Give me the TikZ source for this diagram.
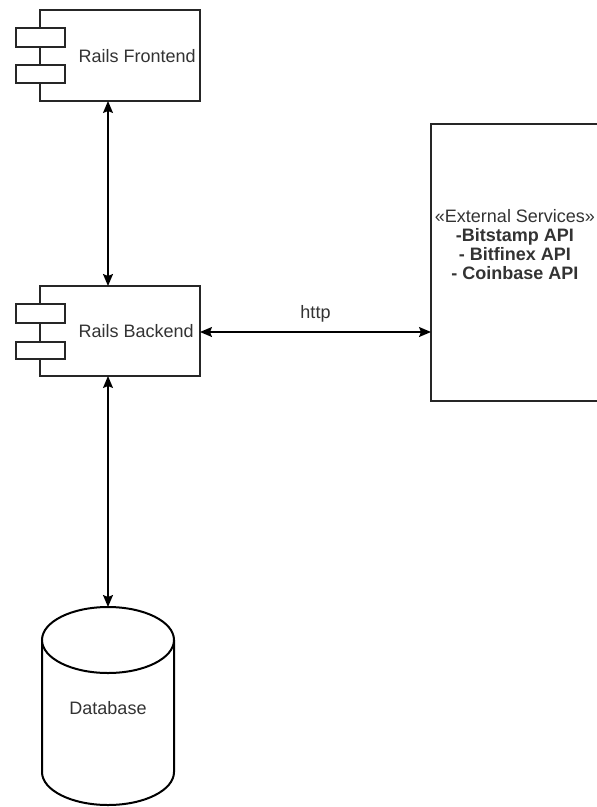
\documentclass[tikz,border=0pt]{standalone}
\usepackage{fontspec}
\setmainfont{Liberation Sans}
\usetikzlibrary{arrows.meta}
\begin{document}
\begin{tikzpicture}[x=1pt,y=-1pt,
  box/.style={draw=black!85,line width=1.3pt,fill=white},
  lbl/.style={font=\fontsize{18}{19}\selectfont,text=black!80},
  conn/.style={line width=1.4pt,{Stealth[length=12pt,width=10pt,inset=2pt]}-{Stealth[length=12pt,width=10pt,inset=2pt]}}]
\useasboundingbox (0,0) rectangle (597,807);
\fill[white] (0,0) rectangle (597,807);
% Frontend
\draw[box] (40,10) rectangle (200,101);
\coordinate (fe) at (108,101);
\draw[box] (16,28) rectangle (65,47);
\draw[box] (16,65) rectangle (65,83);
\node[lbl,anchor=west] (fet) at (75,56) {Rails Frontend};
% Backend
\draw[box] (40,286) rectangle (200,376);
\coordinate (beT) at (108,286);
\coordinate (beB) at (108,376);
\coordinate (beR) at (200,332);
\draw[box] (16,304) rectangle (65,323);
\draw[box] (16,342) rectangle (65,359);
\node[lbl,anchor=west] (bet) at (75,331) {Rails Backend};
% External
\draw[box] (431,124) rectangle (600,401);
\coordinate (ex) at (431,332);
\node[lbl,align=center] (ext) at (515,245) {«External Services»\\\textbf{-Bitstamp API}\\\textbf{- Bitfinex API}\\\textbf{- Coinbase API}};
% Database
\draw[line width=2pt,fill=white] (42,640) -- (42,772) arc[start angle=180,end angle=0,x radius=66,y radius=33] -- (174,640);
\draw[line width=2pt,fill=white] (108,640) ellipse[x radius=66,y radius=33];
\coordinate (db) at (108,607);
\node[lbl] (dbt) at (108,708) {Database};
% connectors
\draw[conn] (fe) -- (beT);
\draw[conn] (beB) -- (db);
\draw[conn] (beR) -- (ex) node[midway,above=6pt,lbl] (http) {http};
\end{tikzpicture}
\end{document}
